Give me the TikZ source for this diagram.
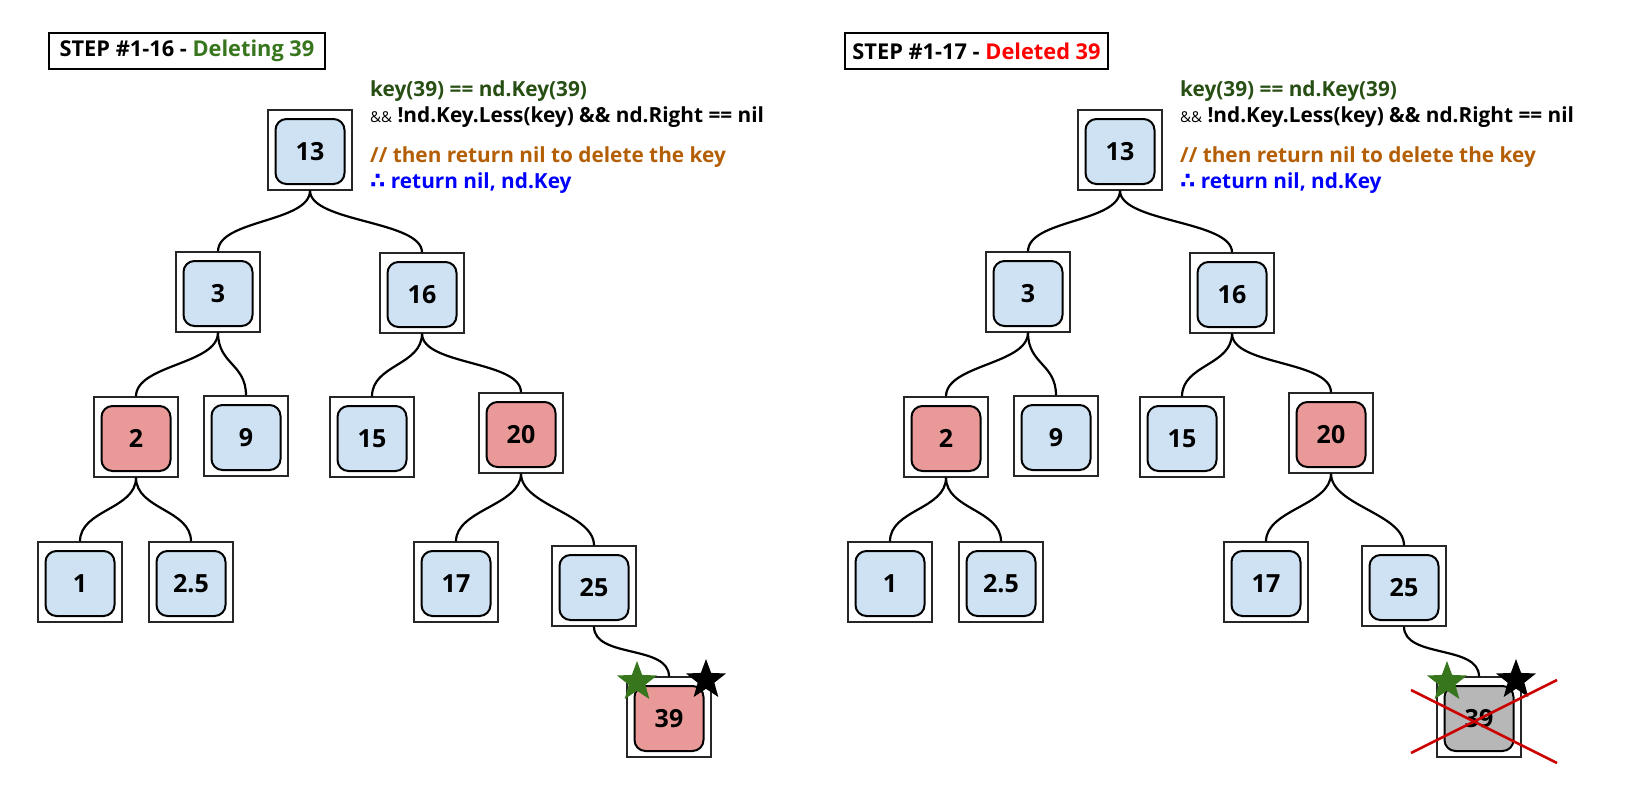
\documentclass[tikz,border=0pt]{standalone}
\usepackage{fontspec}
\setmainfont{Open Sans}
\newfontfamily\djv{DejaVu Sans}
\usetikzlibrary{shapes.geometric,calc}
\definecolor{nblue}{HTML}{CFE2F3}
\definecolor{nred}{HTML}{EA9999}
\definecolor{ngray}{HTML}{B7B7B7}
\definecolor{tgreen}{HTML}{38761D}
\definecolor{kgreen}{HTML}{274E13}
\definecolor{corange}{HTML}{B45F06}
\definecolor{cblue}{HTML}{0000FF}
\definecolor{cred}{HTML}{FF0000}
\definecolor{xred}{HTML}{CC0000}
\tikzset{
  outerbox/.style={draw=black!85, line width=1.1pt, minimum width=84pt, minimum height=80pt, inner sep=0pt, fill=white},
  innerbox/.style={draw=black, line width=2pt, rounded corners=11pt, minimum width=69pt, minimum height=65pt, inner sep=0pt, font=\bfseries\fontsize{25}{28}\selectfont},
  edge/.style={line width=2.2pt, black},
  titlebox/.style={draw=black, line width=1.6pt, minimum height=36pt, inner sep=0pt, font=\bfseries\fontsize{21.8}{24}\selectfont},
  codeline/.style={anchor=base west, inner sep=0pt, font=\bfseries\fontsize{20.8}{22}\selectfont},
  starnode/.style={star, star points=5, star point ratio=2.4, minimum size=42pt, inner sep=0pt},
  cross/.style={xred, line width=2.5pt}
}
\newcommand\tn[5]{%
  \node[outerbox] (#1) at (#2,#3) {};
  \node[innerbox, fill=#5] (#1in) at ($(#1.center)+(0,1.5)$) {#4};
}
\newcommand\ed[2]{%
  \draw[edge] (#1.south) .. controls +(0,32) and +(0,-32) .. (#2.north);
}
\begin{document}
\begin{tikzpicture}[x=1pt,y=-1pt]
\useasboundingbox (0,0) rectangle (1631,792);
% titles
\node[titlebox, minimum width=276pt] (t1) at (187,51) {STEP \#1-16 - \textcolor{tgreen}{Deleting 39}};
\node[titlebox, minimum width=263pt] (t2) at (976.5,51) {STEP \#1-17 - \textcolor{cred}{Deleted 39}};
% code text
\foreach \ox/\nm in {0/a,810/b}{
  \node[codeline, text=kgreen] (c1\nm) at (370+\ox,96) {key(39) == nd.Key(39)};
  \node[codeline] (c2\nm) at (370+\ox,122) {{\mdseries\fontsize{15}{16}\selectfont\&\&} !nd.Key.Less(key) \&\& nd.Right == nil};
  \node[codeline, text=corange] (c3\nm) at (370+\ox,162) {// then return nil to delete the key};
  \node[codeline, text=cblue] (c4\nm) at (370+\ox,188) {{\djv\fontsize{22}{22}\selectfont ∴} return nil, nd.Key};
}
% left tree
\tn{a13}{310}{150}{13}{nblue}
\tn{a3}{218}{292}{3}{nblue}
\tn{a16}{422}{293}{16}{nblue}
\tn{a2}{136}{437}{2}{nred}
\tn{a9}{246}{436}{9}{nblue}
\tn{a15}{372}{437}{15}{nblue}
\tn{a20}{521}{433}{20}{nred}
\tn{a1}{80}{582}{1}{nblue}
\tn{a25x}{191}{582}{2.5}{nblue}
\tn{a17}{456}{582}{17}{nblue}
\tn{a25}{594}{586}{25}{nblue}
\tn{a39}{669}{717}{39}{nred}
\ed{a13}{a3}\ed{a13}{a16}
\ed{a3}{a2}\ed{a3}{a9}
\ed{a16}{a15}\ed{a16}{a20}
\ed{a2}{a1}\ed{a2}{a25x}
\ed{a20}{a17}\ed{a20}{a25}
\ed{a25}{a39}
\node[starnode, fill=tgreen] (sga) at (637,682) {};
\node[starnode, fill=black] (sba) at (706,680) {};
% right tree
\tn{b13}{1120}{150}{13}{nblue}
\tn{b3}{1028}{292}{3}{nblue}
\tn{b16}{1232}{293}{16}{nblue}
\tn{b2}{946}{437}{2}{nred}
\tn{b9}{1056}{436}{9}{nblue}
\tn{b15}{1182}{437}{15}{nblue}
\tn{b20}{1331}{433}{20}{nred}
\tn{b1}{890}{582}{1}{nblue}
\tn{b25x}{1001}{582}{2.5}{nblue}
\tn{b17}{1266}{582}{17}{nblue}
\tn{b25}{1404}{586}{25}{nblue}
\tn{b39}{1479}{717}{39}{ngray}
\ed{b13}{b3}\ed{b13}{b16}
\ed{b3}{b2}\ed{b3}{b9}
\ed{b16}{b15}\ed{b16}{b20}
\ed{b2}{b1}\ed{b2}{b25x}
\ed{b20}{b17}\ed{b20}{b25}
\ed{b25}{b39}
\node[starnode, fill=tgreen] (sgb) at (1447,682) {};
\node[starnode, fill=black] (sbb) at (1516,680) {};
\coordinate (x1) at (1411,690);
\coordinate (x2) at (1557,763);
\coordinate (x3) at (1411,753);
\coordinate (x4) at (1557,680);
\draw[cross] (x1) -- (x2);
\draw[cross] (x3) -- (x4);
\end{tikzpicture}
\end{document}
